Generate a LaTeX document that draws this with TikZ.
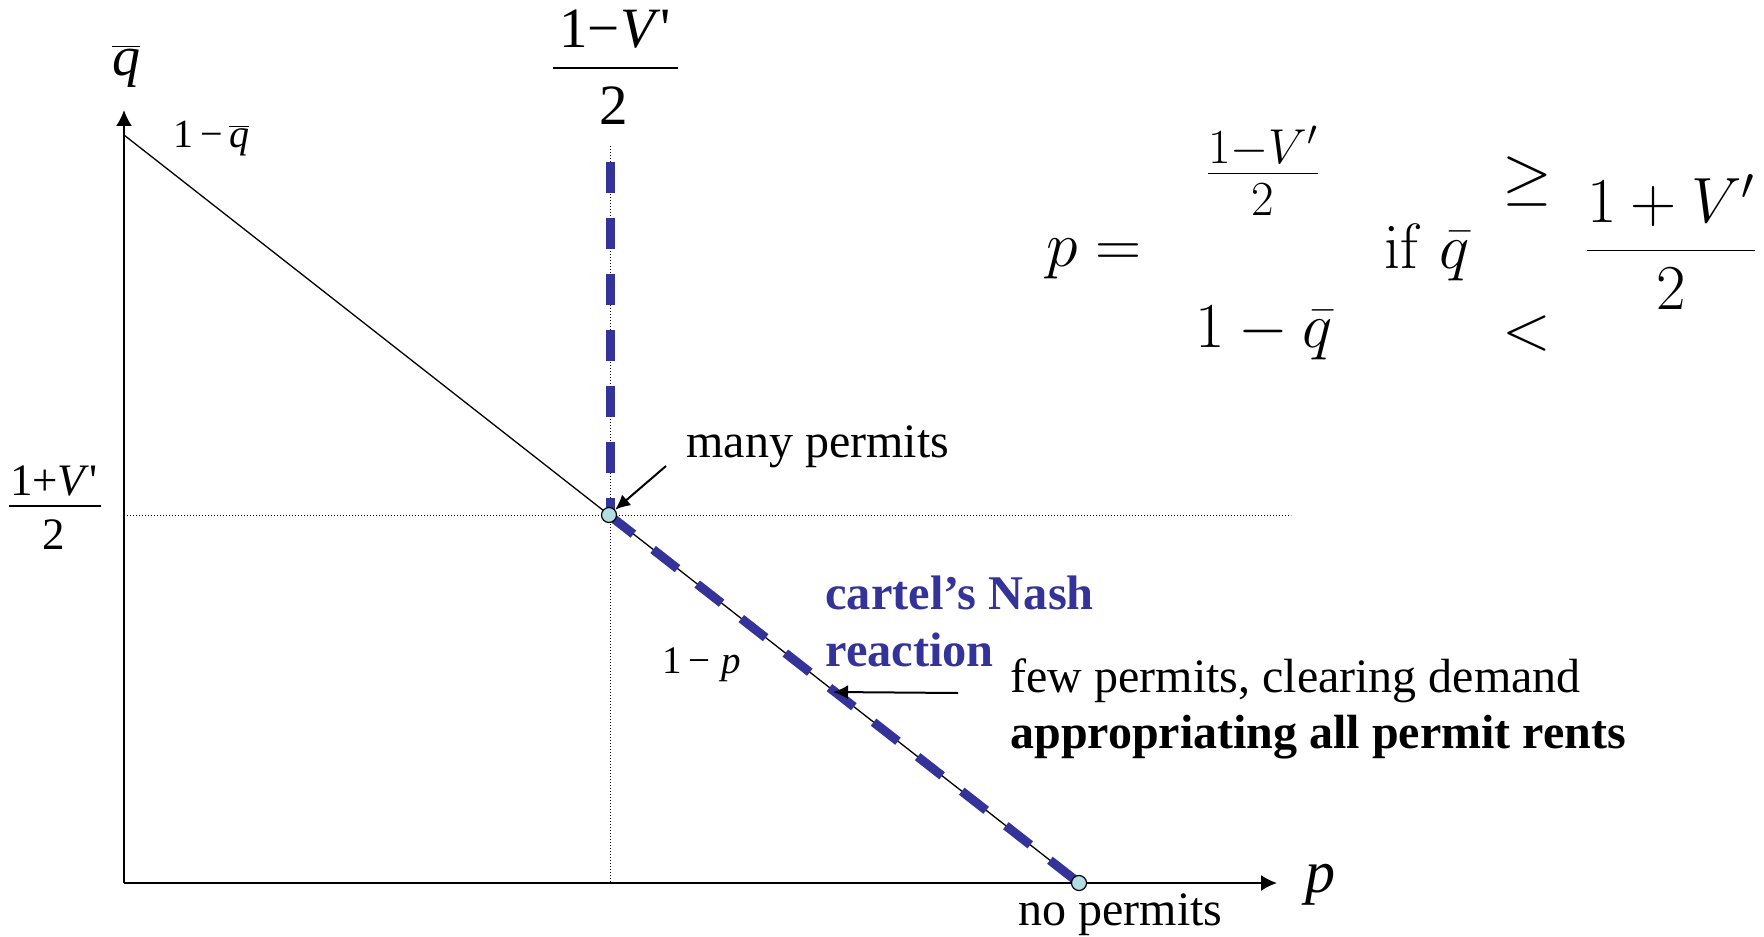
\RequirePackage{fix-cm}
\documentclass[tikz,border=0pt]{standalone}
\usepackage[no-math]{fontspec}
\setmainfont{Liberation Serif}
\usetikzlibrary{arrows.meta}
\definecolor{nashblue}{RGB}{51,51,153}
\definecolor{ptfill}{RGB}{178,222,226}
\newcommand\myqbar{\ensuremath{\overline{\mbox{\itshape q}}}}
\begin{document}
\begin{tikzpicture}[x=0.5pt,y=-0.5pt,
  axis/.style={line width=1pt,-{Latex[length=8pt,width=8pt]}},
  demand/.style={line width=0.65pt},
  guide/.style={line width=0.5pt,dash pattern=on 0.6pt off 0.9pt},
  nash/.style={nashblue,line width=4.5pt,dash pattern=on 15.5pt off 12.5pt},
  pointer/.style={line width=1pt,-{Latex[length=7.5pt,width=7pt]}},
  fracbar/.style={line width=1pt},
  pt/.style={circle,draw=black,line width=0.6pt,fill=ptfill,inner sep=0pt,minimum size=7.5pt},
  lbl/.style={inner sep=0pt,font=\fontsize{24}{28}\selectfont},
  boldlbl/.style={inner sep=0pt,font=\fontsize{24}{28}\selectfont\bfseries},
  nashlbl/.style={inner sep=0pt,text=nashblue,font=\fontsize{24.2}{29}\selectfont\bfseries},
  mathlbl/.style={inner sep=0pt,font=\fontsize{32}{38}\selectfont},
]
\useasboundingbox (0,0) rectangle (1764,936);
% key points
\coordinate (O) at (124,883);
\coordinate (ytop) at (124,110);
\coordinate (xend) at (1277,883);
\coordinate (qmax) at (124,135);
\coordinate (cmany) at (609,515);
\coordinate (cnone) at (1079,883);
\coordinate (vtop) at (610,162);
\coordinate (vbot) at (610,515);
\coordinate (hgl) at (124,515);
\coordinate (hgr) at (1291,515);
\coordinate (vgt) at (610,146);
\coordinate (vgb) at (610,883);
% guides
\draw[guide] (hgl) -- (hgr);
\draw[guide] (vgt) -- (vgb);
% axes
\draw[axis] (O) -- (ytop);
\draw[axis] (O) -- (xend);
% demand line
\draw[demand] (qmax) -- (cnone);
% cartel reaction
\draw[nash] (vtop) -- (vbot);
\draw[nash] (cmany) -- (cnone);
% points
\node[pt] (many) at (cmany) {};
\node[pt] (none) at (cnone) {};
% pointers
\coordinate (mtail) at (666,466);
\draw[pointer] (mtail) -- (many);
\coordinate (ftail) at (958,693);
\coordinate (fhead) at (833,692);
\draw[pointer] (ftail) -- (fhead);
% axis labels
\node[inner sep=0pt,anchor=base,font=\fontsize{28}{31}\selectfont] (qlabel) at (126,76) {\myqbar};
\node[inner sep=0pt,anchor=base,font=\fontsize{30}{34}\selectfont\itshape] (plabel) at (1320,892) {p};
\node[inner sep=0pt,anchor=base west,font=\fontsize{20}{24}\selectfont] (onemq) at (173,148) {1\,−\,\myqbar};
\node[inner sep=0pt,anchor=base west,font=\fontsize{19.5}{24}\selectfont] (onemp) at (662,673) {1\,−\;\textit{p}};
% top fraction
\node[inner sep=0pt,anchor=base,font=\fontsize{28.5}{32}\selectfont] (tnum) at (615,48) {1−\textit{V}\textquotesingle};
\coordinate (tbl) at (553,68);
\coordinate (tbr) at (678,68);
\draw[fracbar] (tbl) -- (tbr);
\node[inner sep=0pt,anchor=base,font=\fontsize{28.5}{32}\selectfont] (tden) at (614,125) {2};
% left fraction
\node[inner sep=0pt,anchor=base,font=\fontsize{22.5}{26}\selectfont] (lnum) at (54,495) {1+\textit{V}\textquotesingle};
\coordinate (lbl) at (9,506);
\coordinate (lbr) at (101,506);
\draw[fracbar] (lbl) -- (lbr);
\node[inner sep=0pt,anchor=base,font=\fontsize{22.5}{26}\selectfont] (lden) at (54,549) {2};
% text labels
\node[lbl,anchor=base west] (manylbl) at (686,457) {many permits};
\node[lbl,anchor=base west] (fewlbl) at (1010,692) {few permits, clearing demand};
\node[boldlbl,anchor=base west] (rentlbl) at (1010,748) {appropriating all permit rents};
\node[lbl,anchor=base west] (nolbl) at (1018,925) {no permits};
\node[nashlbl,anchor=base west] (nasha) at (825,609) {cartel’s Nash};
\node[nashlbl,anchor=base west] (nashb) at (825,666) {reaction};
% formula
\node[mathlbl,anchor=base west] (peq) at (1046,266) {$p =$};
\node[mathlbl,anchor=base,font=\fontsize{35}{40}\selectfont] (case1) at (1263,191) {$\frac{1-V'}{2}$};
\node[mathlbl,anchor=base west] (case2) at (1195,347) {$1-\bar q$};
\node[mathlbl,anchor=base west] (ifq) at (1384,268) {$\mathrm{if}\;\bar q$};
\node[mathlbl] (geq) at (1527,182) {$\geq$};
\node[mathlbl] (lt) at (1527,333) {$<$};
\node[mathlbl,anchor=base] (case3) at (1671,266) {$\displaystyle\frac{1+V'}{2}$};
\end{tikzpicture}
\end{document}
